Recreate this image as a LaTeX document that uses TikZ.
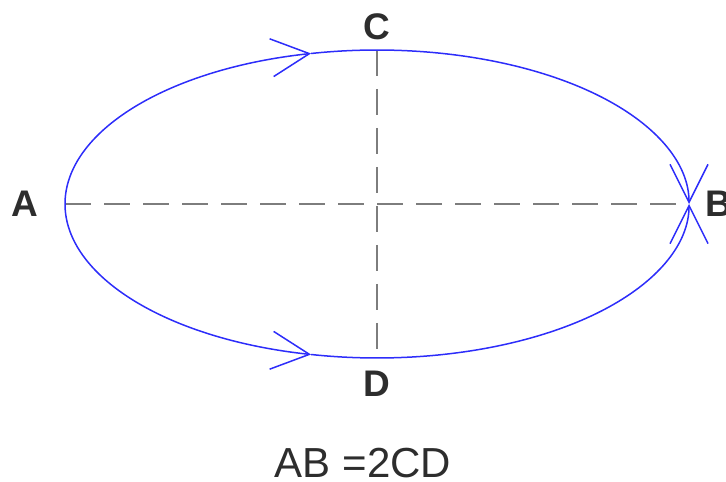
\documentclass[tikz,border=0pt]{standalone}
\usepackage{fontspec}
\setmainfont{Liberation Sans}
\usetikzlibrary{arrows.meta,positioning}
\definecolor{elblue}{RGB}{45,45,250}
\definecolor{axgray}{RGB}{125,125,125}
\definecolor{lblgray}{RGB}{45,45,45}

\begin{document}
\begin{tikzpicture}[x=0.5pt, y=0.5pt,
  ell/.style={draw=elblue, line width=0.75pt, -{Straight Barb[length=19pt,width=19pt]}},
  ax/.style={draw=axgray, line width=0.75pt, dash pattern=on 13pt off 6.5pt},
  pt/.style={font=\fontsize{18.5}{20}\selectfont\bfseries, text=lblgray, inner sep=0pt}]
  \useasboundingbox (0,0) rectangle (726,481);
  \coordinate (A) at (65,277);
  \coordinate (B) at (689,277);
  \coordinate (C) at (377,431);
  \coordinate (D) at (377,123);
  \coordinate (T) at (311.1,427.5);
  \coordinate (U) at (311.1,126.5);
  % axes
  \draw[ax] (A) -- (B);
  \draw[ax] (C) -- (D);
  % ellipse, two ways from A to B
  \draw[ell] (A) arc[start angle=180, end angle=102.2, x radius=156pt, y radius=77pt];
  \draw[ell] (T) arc[start angle=102.2, end angle=0, x radius=156pt, y radius=77pt];
  \draw[ell] (A) arc[start angle=180, end angle=257.8, x radius=156pt, y radius=77pt];
  \draw[ell] (U) arc[start angle=257.8, end angle=360, x radius=156pt, y radius=77pt];
  % labels
  \node[pt, left=13pt of A] (la) {A};
  \node[pt, right=8pt of B] (lb) {B};
  \node[pt, above=5pt of C] (lc) {C};
  \node[pt, below=6.5pt of D] (ld) {D};
  \node[font=\fontsize{21}{24}\selectfont, text=lblgray] (eq) at (363,18) {AB =2CD};
\end{tikzpicture}
\end{document}
